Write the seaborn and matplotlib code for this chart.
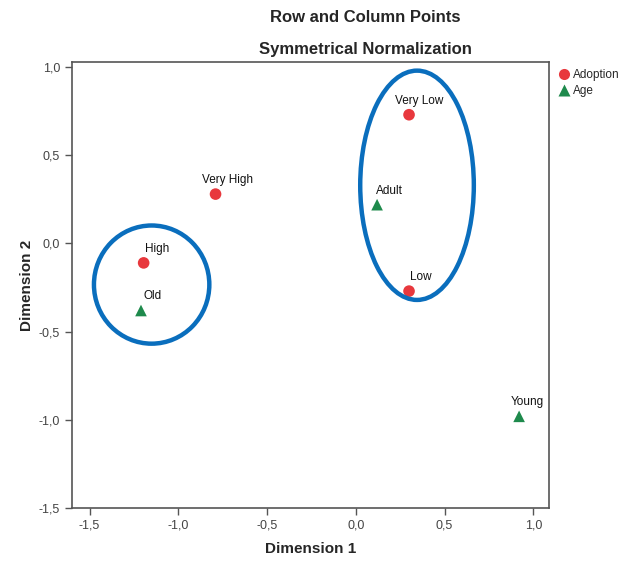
import matplotlib
matplotlib.use("Agg")
import matplotlib.pyplot as plt
from matplotlib.patches import Ellipse
from matplotlib.ticker import FuncFormatter
from matplotlib.lines import Line2D
import seaborn as sns
import pandas as pd

labels = ["Very Low", "Low", "Very High", "High", "Adult", "Old", "Young"]
groups = ["Adoption", "Adoption", "Adoption", "Adoption", "Age", "Age", "Age"]
dim1 = [0.30, 0.30, -0.79, -1.195, 0.12, -1.21, 0.92]
dim2 = [0.73, -0.27, 0.28, -0.11, 0.22, -0.38, -0.98]
x_ticks = [-1.5, -1.0, -0.5, 0.0, 0.5, 1.0]
y_ticks = [1.0, 0.5, 0.0, -0.5, -1.0, -1.5]

# label text offsets in points (style only)
label_dx = {"Very Low": -10, "Low": 1, "Very High": -10, "High": 1, "Adult": -1, "Old": 2, "Young": -6}

df = pd.DataFrame({"label": labels, "group": groups, "Dimension 1": dim1, "Dimension 2": dim2})

sns.set_style("white")
plt.rcParams["font.family"] = ["Liberation Sans", "DejaVu Sans"]

fig = plt.figure(figsize=(6.35, 5.62), dpi=100)
ax = fig.add_axes([0.113, 0.096, 0.752, 0.794])

palette = {"Adoption": "#E8383D", "Age": "#1E8A4C"}
markers = {"Adoption": "o", "Age": "^"}
sns.scatterplot(data=df, x="Dimension 1", y="Dimension 2", hue="group", style="group",
                palette=palette, markers=markers, s=70, edgecolor="none", ax=ax, legend=False, zorder=3)

for lab, x, y in zip(labels, dim1, dim2):
    ax.annotate(lab, (x, y), xytext=(label_dx[lab], 8), textcoords="offset points", fontsize=8.5, color="#111111")

# Blue highlight ellipses
ax.add_patch(Ellipse((-1.15, -0.233), 0.65, 0.67, fill=False, edgecolor="#0A6EBD", lw=3.2, zorder=4))
ax.add_patch(Ellipse((0.345, 0.33), 0.64, 1.30, fill=False, edgecolor="#0A6EBD", lw=3.2, zorder=4))

ax.set_xlim(-1.6, 1.09)
ax.set_ylim(-1.5, 1.03)
ax.set_xticks(x_ticks)
ax.set_yticks(y_ticks)
fmt = FuncFormatter(lambda v, p: f"{v:.1f}".replace(".", ","))
ax.xaxis.set_major_formatter(fmt)
ax.yaxis.set_major_formatter(fmt)
ax.tick_params(axis="both", direction="out", length=5, width=1, colors="#555555", labelsize=9, labelcolor="#444444")
ax.tick_params(bottom=True, left=True)
for sp in ax.spines.values():
    sp.set_color("#555555")
    sp.set_linewidth(1.2)

ax.set_xlabel("Dimension 1", fontsize=11, fontweight="bold", labelpad=7)
ax.set_ylabel("Dimension 2", fontsize=11, fontweight="bold", labelpad=3)

fig.text(0.575, 0.968, "Row and Column Points", ha="center", va="center", fontsize=12, fontweight="bold")
fig.text(0.575, 0.912, "Symmetrical Normalization", ha="center", va="center", fontsize=12, fontweight="bold")

handles = [Line2D([0], [0], marker="o", color="none", markerfacecolor=palette["Adoption"], markeredgecolor="none", markersize=8, label="Adoption"),
           Line2D([0], [0], marker="^", color="none", markerfacecolor=palette["Age"], markeredgecolor="none", markersize=8, label="Age")]
fig.legend(handles=handles, loc="upper left", bbox_to_anchor=(0.872, 0.885), frameon=False, fontsize=8.5,
           handletextpad=0.2, labelspacing=0.35, handlelength=1.0, borderaxespad=0)

fig.savefig("out.png", dpi=100)
